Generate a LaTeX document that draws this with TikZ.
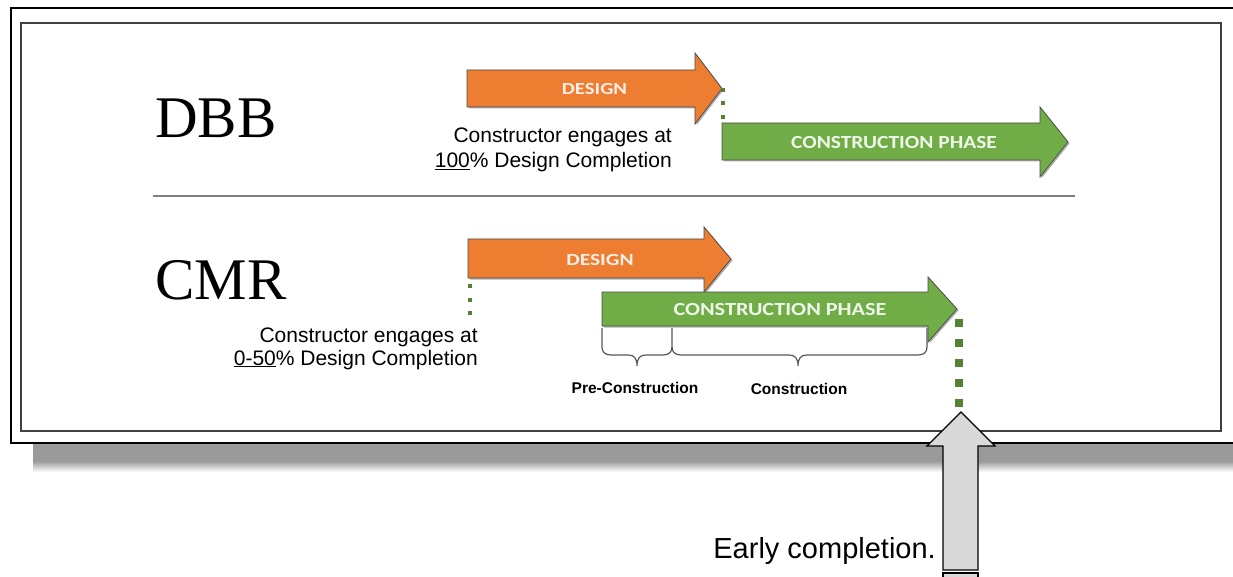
\documentclass[tikz,border=0pt]{standalone}
\usepackage{fontspec}
\setmainfont{Liberation Serif}
\newfontfamily\arialf{Liberation Sans}
\newfontfamily\calibf{Carlito}
\usetikzlibrary{shadows}
\definecolor{orng}{HTML}{ED7D31}
\definecolor{grn}{HTML}{70AD47}
\definecolor{dgrn}{HTML}{548235}
\definecolor{shd}{HTML}{9A9A9A}
\definecolor{bigarr}{HTML}{D9D9D9}
\begin{document}
\begin{tikzpicture}[x=1pt,y=-1pt,
  phasearrow/.style={draw=black!70, line width=0.8pt, line join=miter,
    drop shadow={shadow xshift=1.5pt,shadow yshift=-1.5pt,opacity=0.3,fill=black}},
  arrowtext/.style={font=\calibf\bfseries\fontsize{17}{17}\selectfont, inner sep=0},
  note/.style={font=\arialf\fontsize{21}{21}\selectfont, inner sep=0, anchor=base east},
  dots/.style={draw=dgrn, line width=4pt, dash pattern=on 4pt off 9.5pt},
  bigdots/.style={draw=dgrn, line width=8pt, dash pattern=on 8pt off 12pt},
  bracestyle/.style={draw=black!65, line width=1.2pt},
  phaselabel/.style={font=\arialf\bfseries\fontsize{15.5}{15.5}\selectfont, inner sep=0},
  method/.style={font=\fontsize{59}{59}\selectfont, inner sep=0, anchor=base west}]
\useasboundingbox (0,0) rectangle (1233,577);
\clip (0,0) rectangle (1233,577);
% outer frame shadow
\fill[shd] (33,444) rectangle (1240,461);
\shade[top color=shd, bottom color=white] (33,461) rectangle (1240,472);
% frames
\draw[black, line width=2.5pt, fill=white] (11,8) rectangle (1245,443);
\draw[black!75, line width=1.5pt] (21,23) rectangle (1221,431);
\draw[black!50, line width=1.2pt] (153,196) -- (1075,196);
% method labels
\node[method] (dbb) at (155,138) {DBB};
\node[method] (cmr) at (155,299) {CMR};
% DBB arrows
\path[phasearrow, fill=orng] (467,70) -- (695,70) -- (695,53) -- (722,88.5) -- (695,124) -- (695,107) -- (467,107) -- cycle;
\node[arrowtext, text=white!88!orng] (dbbdesign) at (594.5,89) {\scalebox{1.22}[1]{DESIGN}};
\path[phasearrow, fill=grn] (722,123) -- (1040,123) -- (1040,107) -- (1068,142) -- (1040,177) -- (1040,160) -- (722,160) -- cycle;
\node[arrowtext, text=white!88!grn, font=\calibf\bfseries\fontsize{18.5}{18.5}\selectfont] (dbbconst) at (894,143) {\scalebox{1.16}[1]{CONSTRUCTION PHASE}};
\coordinate (dbbdtip) at (723,88);
\coordinate (dbbcstart) at (723,121);
\draw[dots] (dbbdtip) -- (dbbcstart);
\node[note] (dbbn1) at (672,143) {Constructor engages at};
\node[note] (dbbn2) at (672,168) {\underline{100}\% Design Completion};
% CMR arrows
\path[phasearrow, fill=orng] (468,239) -- (704,239) -- (704,227) -- (731,259) -- (704,292) -- (704,278) -- (468,278) -- cycle;
\node[arrowtext, text=white!88!orng] (cmrdesign) at (600,260) {\scalebox{1.26}[1]{DESIGN}};
\path[phasearrow, fill=grn] (602,292) -- (928,292) -- (928,277) -- (957,309) -- (928,342) -- (928,326) -- (602,326) -- cycle;
\node[arrowtext, text=white!88!grn, font=\calibf\bfseries\fontsize{18.5}{18.5}\selectfont] (cmrconst) at (780,310) {\scalebox{1.2}[1]{CONSTRUCTION PHASE}};
\coordinate (cmrdstart) at (470,284);
\coordinate (cmrdend) at (470,318);
\draw[dots] (cmrdstart) -- (cmrdend);
\node[note] (cmrn1) at (478,342) {Constructor engages at};
\node[note] (cmrn2) at (478,365) {\underline{0-50}\% Design Completion};
% braces
\draw[bracestyle] (602,328) -- (602,347) .. controls (602,352) and (605,355) .. (611,355) -- (628,355)
  .. controls (634,355) and (637,358) .. (637,366) .. controls (637,358) and (640,355) .. (646,355)
  -- (663,355) .. controls (669,355) and (672,352) .. (672,347) -- (672,328);
\draw[bracestyle] (672,347) .. controls (672,352) and (675,355) .. (681,355) -- (789,355)
  .. controls (795,355) and (798,358) .. (798,366) .. controls (798,358) and (801,355) .. (807,355)
  -- (918,355) .. controls (924,355) and (927,352) .. (927,347) -- (927,328);
\node[phaselabel] (precon) at (635,388) {Pre-Construction};
\node[phaselabel] (con) at (799,389) {Construction};
% early completion
\coordinate (endtop) at (959,319);
\coordinate (endbot) at (959,407);
\draw[bigdots] (endtop) -- (endbot);
\path[fill=bigarr, draw=black, line width=1.1pt, line join=miter] (943,570) -- (943,446) -- (927,446) -- (961,412) -- (995,446) -- (978,446) -- (978,570) -- cycle;
\path[fill=bigarr, draw=black, line width=1.1pt] (943,573) rectangle (978,580);
\node[font=\arialf\fontsize{29}{29}\selectfont, inner sep=0, anchor=base east] (early) at (936,558) {Early completion.};
\end{tikzpicture}
\end{document}
